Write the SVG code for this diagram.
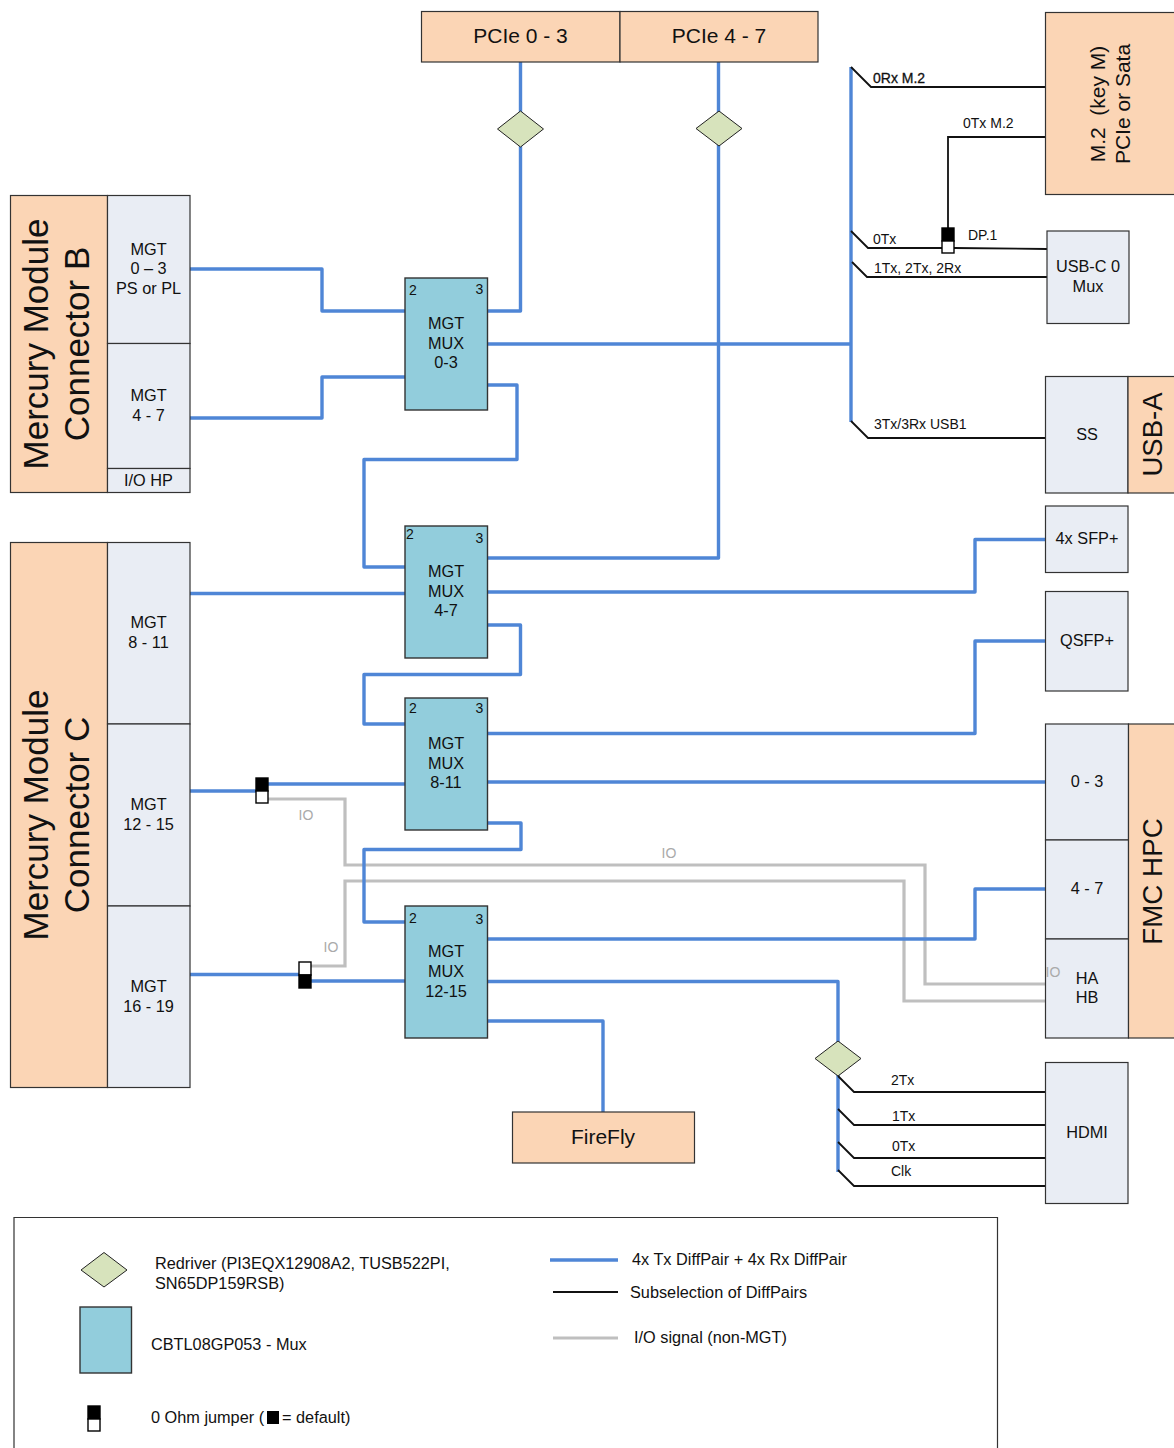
<svg xmlns="http://www.w3.org/2000/svg" width="1174" height="1448" viewBox="0 0 1174 1448">
<style>
text{font-family:"Liberation Sans",Arial,sans-serif;fill:#111;text-anchor:middle}
.o{fill:#fbd5b5;stroke:#333;stroke-width:1.2}
.g{fill:#e9edf4;stroke:#333;stroke-width:1.2}
.m{fill:#92cddc;stroke:#333;stroke-width:1.4}
.d{fill:#d7e3bc;stroke:#222;stroke-width:1}
.bl{fill:none;stroke:#4f86d6;stroke-width:3.4;stroke-linejoin:round}
.bk{fill:none;stroke:#111;stroke-width:1.8}
.gr{fill:none;stroke:#bfbfbf;stroke-width:3.2}
.t16{font-size:16.3px}.t20{font-size:21px}.t34{font-size:35px}
.t14{font-size:14px}
.io{font-size:14px;fill:#aaa}
.l{text-anchor:start;font-size:16.3px}
</style>
<defs>
<g id="jup"><rect x="-6" y="-13" width="12" height="13" fill="#000" stroke="#000" stroke-width="1.4"/><rect x="-6" y="0" width="12" height="12" fill="#fff" stroke="#000" stroke-width="1.4"/></g>
<g id="jdn"><rect x="-6" y="-13" width="12" height="13" fill="#fff" stroke="#000" stroke-width="1.4"/><rect x="-6" y="0" width="12" height="13" fill="#000" stroke="#000" stroke-width="1.4"/></g>
</defs>

<g id="connectors">
<path class="gr" d="M268 799H345V865H925V984H1046"/>
<path class="gr" d="M311 966H345V881H904V1001H1046"/>
<path class="bl" d="M520.500 62V311H487"/>
<path class="bl" d="M718.500 62V558H487"/>
<path class="bl" d="M190 269H322V311H405"/>
<path class="bl" d="M190 418H322V377H405"/>
<path class="bl" d="M487 344H851"/>
<path class="bl" d="M851 67V422"/>
<path class="bl" d="M487 385H517V459.500H364V567H405"/>
<path class="bl" d="M190 593.500H405"/>
<path class="bl" d="M487 592H975V539.500H1046"/>
<path class="bl" d="M487 625H520.500V674.500H364V724H405"/>
<path class="bl" d="M487 733.500H975V641H1046"/>
<path class="bl" d="M190 791H256"/>
<path class="bl" d="M268 784H405"/>
<path class="bl" d="M487 782H1046"/>
<path class="bl" d="M487 823H521V849.500H364V922H405"/>
<path class="bl" d="M190 974.500H299"/>
<path class="bl" d="M311 981H405"/>
<path class="bl" d="M487 939H975V889H1046"/>
<path class="bl" d="M487 981.500H838V1172"/>
<path class="bl" d="M487 1021H603V1112"/>
<path class="bk" d="M851 67L871 87H1046"/>
<path class="bk" d="M1046 137H948V230"/>
<path class="bk" d="M851 231L868 248H942M954 248L1047 249"/>
<path class="bk" d="M852 262L867 277H1047"/>
<path class="bk" d="M851 421L868 438H1046"/>
<path class="bk" d="M838 1076L854 1092H1046"/>
<path class="bk" d="M838 1109L854 1125H1046"/>
<path class="bk" d="M838 1142L854 1158H1046"/>
<path class="bk" d="M838 1170L854 1186H1046"/>
</g>

<g id="pcie03"><rect class="o" x="421.500" y="11.500" width="198.500" height="50.500"/><text class="t20" x="520.500" y="43">PCIe 0 - 3</text></g>
<g id="pcie47"><rect class="o" x="620" y="11.500" width="198" height="50.500"/><text class="t20" x="719" y="43">PCIe 4 - 7</text></g>
<g id="rd1"><polygon class="d" points="520.500,111 543.500,129 520.500,147 497.500,129"/></g>
<g id="rd2"><polygon class="d" points="719,111 742,128.500 719,146 696,128.500"/></g>
<g id="rd3"><polygon class="d" points="838,1041 861,1058.500 838,1076 815,1058.500"/></g>

<g id="connB">
<rect class="o" x="10.500" y="195.500" width="97" height="297"/>
<text class="t34" transform="translate(48,344) rotate(-90)">Mercury Module</text>
<text class="t34" transform="translate(89,344) rotate(-90)">Connector B</text>
<rect class="g" x="107.500" y="195.500" width="82.500" height="148"/>
<text class="t16" x="148.500" y="255">MGT</text><text class="t16" x="148.500" y="274">0 – 3</text><text class="t16" x="148.500" y="294">PS or PL</text>
<rect class="g" x="107.500" y="343.500" width="82.500" height="125"/>
<text class="t16" x="148.500" y="401">MGT</text><text class="t16" x="148.500" y="421">4 - 7</text>
<rect class="g" x="107.500" y="468.500" width="82.500" height="24"/>
<text class="t16" x="148.500" y="486">I/O HP</text>
</g>
<g id="connC">
<rect class="o" x="10.500" y="542.500" width="97" height="545"/>
<text class="t34" transform="translate(48,815) rotate(-90)">Mercury Module</text>
<text class="t34" transform="translate(89,815) rotate(-90)">Connector C</text>
<rect class="g" x="107.500" y="542.500" width="82.500" height="181.500"/>
<text class="t16" x="148.500" y="628">MGT</text><text class="t16" x="148.500" y="648">8 - 11</text>
<rect class="g" x="107.500" y="724" width="82.500" height="182"/>
<text class="t16" x="148.500" y="810">MGT</text><text class="t16" x="148.500" y="830">12 - 15</text>
<rect class="g" x="107.500" y="906" width="82.500" height="181.500"/>
<text class="t16" x="148.500" y="992">MGT</text><text class="t16" x="148.500" y="1012">16 - 19</text>
</g>

<g id="mux0"><rect class="m" x="405" y="278" width="82.500" height="132"/>
<text class="t14" x="413" y="295">2</text><text class="t14" x="479.500" y="294">3</text>
<text class="t16" x="446" y="329">MGT</text><text class="t16" x="446" y="349">MUX</text><text class="t16" x="446" y="368">0-3</text></g>
<g id="mux4"><rect class="m" x="405" y="526" width="82.500" height="132"/>
<text class="t14" x="410" y="539">2</text><text class="t14" x="479.500" y="543">3</text>
<text class="t16" x="446" y="577">MGT</text><text class="t16" x="446" y="597">MUX</text><text class="t16" x="446" y="616">4-7</text></g>
<g id="mux8"><rect class="m" x="405" y="698" width="82.500" height="132"/>
<text class="t14" x="413" y="713">2</text><text class="t14" x="479.500" y="713">3</text>
<text class="t16" x="446" y="749">MGT</text><text class="t16" x="446" y="769">MUX</text><text class="t16" x="446" y="788">8-11</text></g>
<g id="mux12"><rect class="m" x="405" y="906" width="82.500" height="132"/>
<text class="t14" x="413" y="923">2</text><text class="t14" x="479.500" y="924">3</text>
<text class="t16" x="446" y="957">MGT</text><text class="t16" x="446" y="977">MUX</text><text class="t16" x="446" y="997">12-15</text></g>

<g id="j1"><use href="#jup" x="262" y="791"/></g>
<g id="j2"><use href="#jdn" x="305" y="975"/></g>
<g id="j3"><use href="#jup" x="948" y="241"/></g>

<text class="io" x="306" y="820">IO</text>
<text class="io" x="331" y="952">IO</text>
<text class="io" x="669" y="858">IO</text>

<g id="m2"><rect class="o" x="1045.500" y="12.500" width="135" height="182"/>
<text class="t20" transform="translate(1105,104) rotate(-90)" xml:space="preserve" style="white-space:pre">M.2  (key M)</text>
<text class="t20" transform="translate(1130,104) rotate(-90)">PCIe or Sata</text></g>
<g id="usbc"><rect class="g" x="1047" y="231" width="82" height="92.500"/>
<text class="t16" x="1088" y="272">USB-C 0</text><text class="t16" x="1088" y="292">Mux</text></g>
<g id="usba"><rect class="g" x="1045.500" y="376.500" width="82.500" height="116.500"/><text class="t16" x="1087" y="440">SS</text>
<rect class="o" x="1128" y="376.500" width="52" height="116.500"/>
<text transform="translate(1161.500,434.500) rotate(-90)" font-size="27.500">USB-A</text></g>
<g id="sfp"><rect class="g" x="1045.500" y="506" width="82.500" height="66.500"/><text class="t16" x="1087" y="544">4x SFP+</text></g>
<g id="qsfp"><rect class="g" x="1045.500" y="591.500" width="82.500" height="99.500"/><text class="t16" x="1087" y="646">QSFP+</text></g>
<g id="fmc">
<rect class="g" x="1045.500" y="724" width="83" height="116"/><text class="t16" x="1087" y="787">0 - 3</text>
<rect class="g" x="1045.500" y="840" width="83" height="99"/><text class="t16" x="1087" y="894">4 - 7</text>
<rect class="g" x="1045.500" y="939" width="83" height="99"/><text class="t16" x="1087" y="984">HA</text><text class="t16" x="1087" y="1003">HB</text>
<rect class="o" x="1128.500" y="724" width="52" height="314"/>
<text transform="translate(1162,881.500) rotate(-90)" font-size="27.800">FMC HPC</text>
</g>
<text class="io" x="1053" y="977">IO</text>
<g id="hdmi"><rect class="g" x="1045.500" y="1062.500" width="82.500" height="141"/><text class="t16" x="1087" y="1138">HDMI</text></g>
<g id="firefly"><rect class="o" x="512.500" y="1112" width="182" height="51"/><text class="t20" x="603" y="1144">FireFly</text></g>

<g id="labels">
<text class="t14" style="text-anchor:start;stroke:#111;stroke-width:.3" x="873" y="83">0Rx M.2</text>
<text class="t14" style="text-anchor:start" x="963" y="128">0Tx M.2</text>
<text class="t14" style="text-anchor:start" x="873" y="244">0Tx</text>
<text class="t14" style="text-anchor:start" x="968" y="240">DP.1</text>
<text class="t14" style="text-anchor:start" x="874" y="273">1Tx, 2Tx, 2Rx</text>
<text class="t14" style="text-anchor:start" x="874" y="429">3Tx/3Rx USB1</text>
<text class="t14" style="text-anchor:start" x="891" y="1085">2Tx</text>
<text class="t14" style="text-anchor:start" x="892" y="1121">1Tx</text>
<text class="t14" style="text-anchor:start" x="892" y="1151">0Tx</text>
<text class="t14" style="text-anchor:start" x="891" y="1176">Clk</text>
</g>

<g id="legend">
<path d="M14 1448V1217.500H997.500V1448" fill="none" stroke="#333" stroke-width="1.2"/>
<polygon class="d" points="104,1252.500 127,1270 104,1287 81,1270"/>
<rect class="m" x="80" y="1307" width="51.500" height="66"/>
<use href="#jup" x="94" y="1419"/>
<text class="l" x="155" y="1269">Redriver (PI3EQX12908A2, TUSB522PI,</text>
<text class="l" x="155" y="1289">SN65DP159RSB)</text>
<text class="l" x="151" y="1350">CBTL08GP053 - Mux</text>
<text class="l" x="151" y="1423">0 Ohm jumper (</text>
<rect x="267" y="1411" width="12" height="13" fill="#000"/>
<text class="l" x="282" y="1423">= default)</text>
<path class="bl" d="M550 1260H618"/>
<path class="bk" d="M553 1292H618"/>
<path class="gr" d="M553 1338H618"/>
<text class="l" x="632" y="1265">4x Tx DiffPair + 4x Rx DiffPair</text>
<text class="l" x="630" y="1298">Subselection of DiffPairs</text>
<text class="l" x="634" y="1343">I/O signal (non-MGT)</text>
</g>
</svg>
